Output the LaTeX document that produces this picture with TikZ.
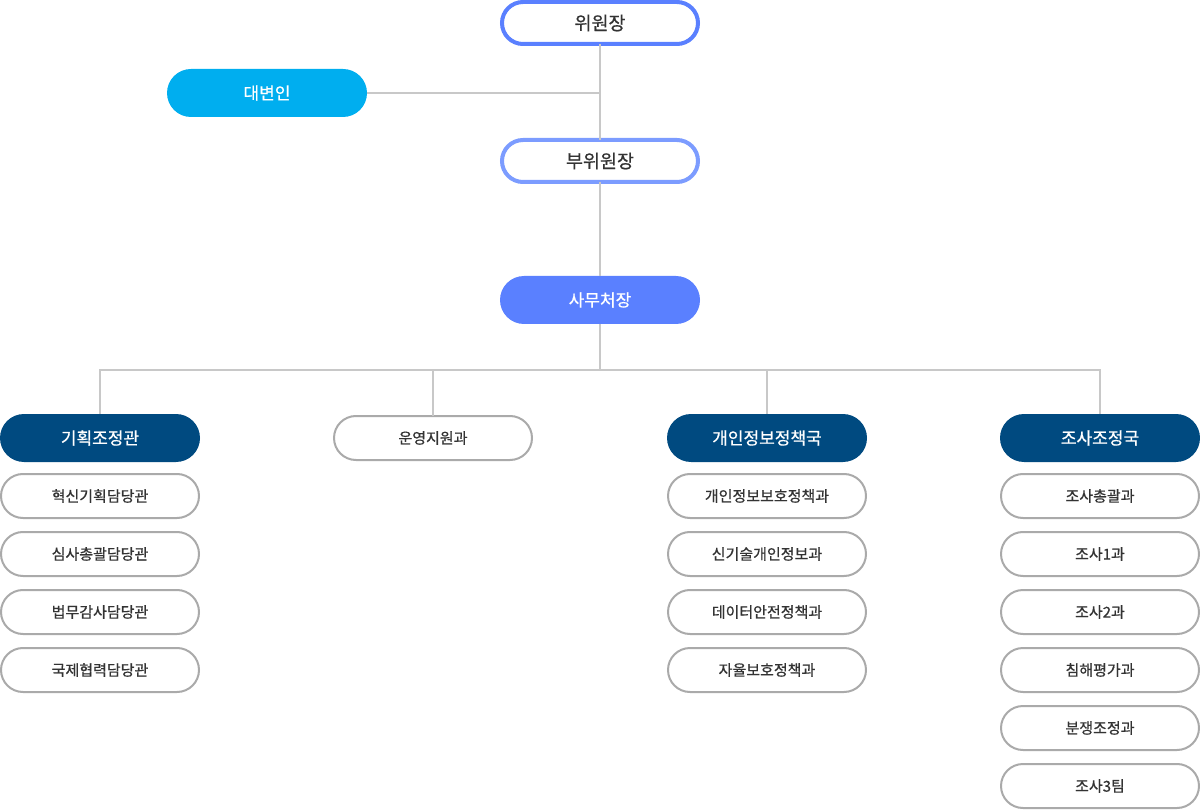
\documentclass[tikz,border=0pt]{standalone}
\usepackage{fontspec}
\setmainfont{Noto Sans CJK KR}[FakeBold=0.7]
\usetikzlibrary{positioning}
\definecolor{chairBlue}{RGB}{90,128,255}
\definecolor{viceBlue}{RGB}{124,156,255}
\definecolor{skyBlue}{RGB}{0,174,239}
\definecolor{navyBlue}{RGB}{0,74,128}
\definecolor{boxGray}{RGB}{170,170,170}
\definecolor{lineGray}{RGB}{200,200,200}
\definecolor{textGray}{RGB}{51,51,51}
\tikzset{
  chairNode/.style={rectangle, rounded corners=21pt, fill=white, draw=chairBlue, line width=4pt, minimum width=196pt, minimum height=42pt, inner sep=0pt, text=textGray, font=\fontsize{18.5}{21}\selectfont},
  viceNode/.style={chairNode, draw=viceBlue},
  fillNode/.style={rectangle, rounded corners=24pt, minimum width=200pt, minimum height=48pt, inner sep=0pt, text=white, font=\fontsize{17}{20}\selectfont},
  unitNode/.style={rectangle, rounded corners=22pt, fill=white, draw=boxGray, line width=2pt, minimum width=198pt, minimum height=44pt, inner sep=0pt, text=textGray, font=\fontsize{15}{18}\selectfont},
  link/.style={draw=lineGray, line width=2pt}
}
\begin{document}
\begin{tikzpicture}[x=1pt, y=-1pt, node distance=14pt, outer sep=0pt]
  \useasboundingbox (0,0) rectangle (1200,810);

  \node[chairNode] (chair) at (600,23) {위원장};
  \node[fillNode, fill=skyBlue] (spokes) at (267,93) {대변인};
  \node[viceNode] (vice) at (600,161) {부위원장};
  \node[fillNode, fill=chairBlue] (chief) at (600,300) {사무처장};
  \coordinate (bus) at (600,370);

  \node[fillNode, fill=navyBlue] (plan) at (100,438) {기획조정관};
  \node[unitNode] (support) at (433,438) {운영지원과};
  \node[fillNode, fill=navyBlue] (privacy) at (767,438) {개인정보정책국};
  \node[fillNode, fill=navyBlue] (inquiry) at (1100,438) {조사조정국};

  % planning office
  \node[unitNode, below=12pt of plan] (plan1) {혁신기획담당관};
  \node[unitNode, below=of plan1] (plan2) {심사총괄담당관};
  \node[unitNode, below=of plan2] (plan3) {법무감사담당관};
  \node[unitNode, below=of plan3] (plan4) {국제협력담당관};

  % privacy policy bureau
  \node[unitNode, below=12pt of privacy] (privacy1) {개인정보보호정책과};
  \node[unitNode, below=of privacy1] (privacy2) {신기술개인정보과};
  \node[unitNode, below=of privacy2] (privacy3) {데이터안전정책과};
  \node[unitNode, below=of privacy3] (privacy4) {자율보호정책과};

  % investigation bureau
  \node[unitNode, below=12pt of inquiry] (inquiry1) {조사총괄과};
  \node[unitNode, below=of inquiry1] (inquiry2) {조사1과};
  \node[unitNode, below=of inquiry2] (inquiry3) {조사2과};
  \node[unitNode, below=of inquiry3] (inquiry4) {침해평가과};
  \node[unitNode, below=of inquiry4] (inquiry5) {분쟁조정과};
  \node[unitNode, below=of inquiry5] (inquiry6) {조사3팀};

  \draw[link] (chair.south) -- (vice.north);
  \draw[link] (spokes.east) -- (spokes.east -| chair.south);
  \draw[link] (vice.south) -- (chief.north);
  \draw[link] (chief.south) -- (bus);
  \draw[link] (bus) -| (plan.north);
  \draw[link] (bus) -| (support.north);
  \draw[link] (bus) -| (privacy.north);
  \draw[link] (bus) -| (inquiry.north);
\end{tikzpicture}
\end{document}
